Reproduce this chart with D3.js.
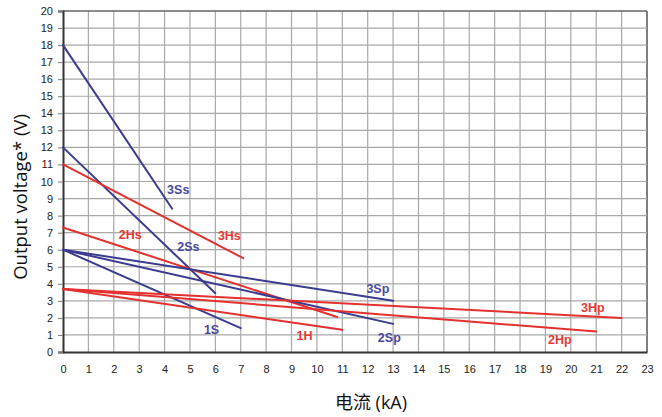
<!DOCTYPE html>
<html>
<head>
<meta charset="utf-8">
<script src="https://cdn.jsdelivr.net/npm/d3@7"></script>
<style>
    body { margin: 0; background: #fff; }
    .tick text { font-family: "Liberation Sans", Arial, sans-serif; font-size: 11px; fill: #222; }
    .lbl { font-family: "Liberation Sans", Arial, sans-serif; font-size: 12.5px; font-weight: bold; }
</style>
</head>
<body>
<svg id="chart" width="662" height="417"></svg>
<script>
// curve names, colour group, start / end points (kA, V)
var names  = ['3Ss', '2Ss', '3Hs', '2Hs', '3Sp', '2Sp', '1S', '1H', '3Hp', '2Hp'];
var kinds  = ['S', 'S', 'H', 'H', 'S', 'S', 'S', 'H', 'H', 'H'];
var startX = [0, 0, 0, 0, 0, 0, 0, 0, 0, 0];
var startY = [18, 12, 11, 7.3, 6, 6, 6, 3.7, 3.7, 3.7];
var endX   = [4.3, 6, 7.1, 10.8, 13, 13, 7, 11, 22, 21];
var endY   = [8.4, 3.45, 5.5, 2.05, 3.0, 1.65, 1.4, 1.3, 2.0, 1.2];
// label anchor (left, middle) in data units
var labelX = [4.1, 4.5, 6.1, 2.2, 11.95, 12.4, 5.55, 9.2, 20.4, 19.1];
var labelY = [9.5, 6.2, 6.85, 6.9, 3.7, 0.85, 1.3, 0.95, 2.6, 0.75];

var xTicks = d3.range(0, 24);
var yTicks = d3.range(0, 21);

var colors = { S: '#3b3b8f', H: '#e2312f' };
var labelColors = { S: '#4a4a9c', H: '#e23a36' };

var svg = d3.select('#chart');
var x = d3.scaleLinear().domain([0, 23]).range([63, 647]);
var y = d3.scaleLinear().domain([0, 20]).range([352, 11]);

// grid
svg.append('g').selectAll('line').data(xTicks.slice(1)).enter().append('line')
    .attr('x1', function(d) { return x(d); }).attr('x2', function(d) { return x(d); })
    .attr('y1', y(0)).attr('y2', y(20))
    .attr('stroke', function(d) { return d === 23 ? '#555' : '#a8a8a8'; })
    .attr('stroke-width', function(d) { return d === 23 ? 1.5 : 1.2; });
svg.append('g').selectAll('line').data(yTicks.slice(1)).enter().append('line')
    .attr('x1', x(0)).attr('x2', x(23))
    .attr('y1', function(d) { return y(d); }).attr('y2', function(d) { return y(d); })
    .attr('stroke', function(d) { return d === 20 ? '#666' : '#a8a8a8'; })
    .attr('stroke-width', function(d) { return d === 20 ? 1.5 : 1.2; });

// axes
var xAxis = svg.append('g').attr('transform', 'translate(0,' + y(0) + ')')
    .call(d3.axisBottom(x).tickValues(xTicks).tickSize(0).tickPadding(13));
var yAxis = svg.append('g').attr('transform', 'translate(' + x(0) + ',0)')
    .call(d3.axisLeft(y).tickValues(yTicks).tickSize(5).tickPadding(5));
xAxis.select('.domain').attr('stroke', '#333').attr('stroke-width', 2);
yAxis.select('.domain').attr('stroke', '#333').attr('stroke-width', 2);
yAxis.selectAll('.tick line').attr('stroke', '#777');

// curves
svg.append('g').selectAll('line').data(names).enter().append('line')
    .attr('x1', function(d, i) { return x(startX[i]); })
    .attr('y1', function(d, i) { return y(startY[i]); })
    .attr('x2', function(d, i) { return x(endX[i]); })
    .attr('y2', function(d, i) { return y(endY[i]); })
    .attr('stroke', function(d, i) { return colors[kinds[i]]; })
    .attr('stroke-width', 2)
    .attr('stroke-linecap', 'round');

svg.append('g').selectAll('text').data(names).enter().append('text')
    .attr('class', 'lbl')
    .attr('x', function(d, i) { return x(labelX[i]); })
    .attr('y', function(d, i) { return y(labelY[i]); })
    .attr('dy', '0.35em')
    .attr('fill', function(d, i) { return labelColors[kinds[i]]; })
    .text(function(d) { return d; });

// titles
svg.append('text')
    .attr('transform', 'translate(27,197) rotate(-90)')
    .attr('text-anchor', 'middle')
    .style('font-family', '"Open Sans", sans-serif')
    .style('font-size', '18.5px')
    .attr('fill', '#111')
    .text('Output voltage* (V)');
svg.append('text')
    .attr('x', 371).attr('y', 409)
    .attr('text-anchor', 'middle')
    .style('font-family', '"Open Sans", "Noto Sans CJK SC", sans-serif')
    .style('font-size', '18px')
    .attr('fill', '#111')
    .text('电流 (kA)');
</script>
</body>
</html>
